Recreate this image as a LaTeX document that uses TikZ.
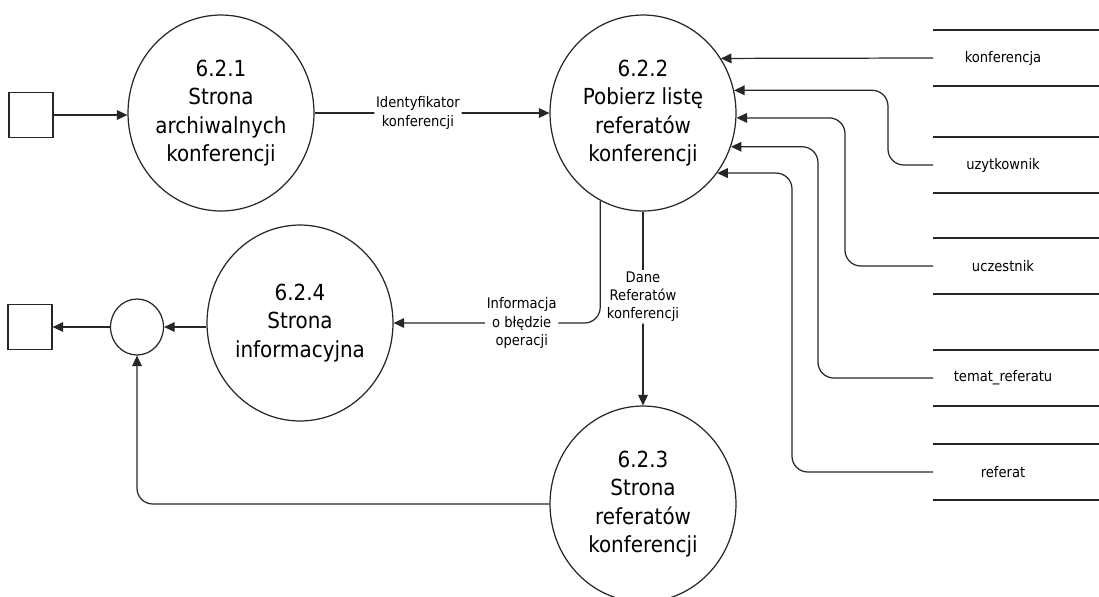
\documentclass[tikz,border=0pt]{standalone}
\usepackage{fontspec}
\setmainfont{DejaVu Sans Condensed}
\usepackage{tikz}
\usetikzlibrary{arrows.meta}
\usetikzlibrary{shapes.geometric}
\tikzset{
    proc/.style={ellipse,draw,minimum width=3.72cm,minimum height=3.92cm,inner sep=0pt,align=center,font=\fontsize{12.6}{16.2}\selectfont},
    junction/.style={ellipse,draw,minimum width=1.06cm,minimum height=1.12cm,inner sep=0pt},
    term/.style={rectangle,draw,minimum width=0.88cm,minimum height=0.9cm},
    lbl/.style={fill=white,inner sep=1pt,align=center,font=\fontsize{8.3}{10.3}\selectfont},
    flow/.style={-{Triangle[length=6pt,width=5.5pt]},rounded corners=9pt}
}
\newcommand{\storenode}[3]{\node[lbl] (#1) at (1003,#2) {#3};
    \draw (933,#2-28) -- (1099,#2-28);
    \draw (933,#2+28) -- (1099,#2+28);
    \coordinate (#1-in) at (933,#2);}

\begin{document}
\begin{tikzpicture}[x=0.02cm,y=-0.02cm,line width=0.7pt,draw=black!85]
    \useasboundingbox (0,0) rectangle (1099,596);
    %nodes
    \node[term] (src) at (31,115) {};
    \node[term] (sink) at (30,327) {};
    \node[junction] (joint) at (137,327) {};
    \node[proc] (p621) at (221,113) {6.2.1\\Strona\\archiwalnych\\konferencji};
    \node[proc] (p622) at (643,113) {6.2.2\\Pobierz listę\\referatów\\konferencji};
    \node[proc] (p623) at (643,504) {6.2.3\\Strona\\referatów\\konferencji};
    \node[proc] (p624) at (300,323) {6.2.4\\Strona\\informacyjna};
    
    % data stores
    \storenode{konf}{58}{konferencja}
    \storenode{uzyt}{165}{uzytkownik}
    \storenode{ucz}{266}{uczestnik}
    \storenode{temat}{378}{temat\_referatu}
    \storenode{ref}{472}{referat}
    
    %edges
    \draw[flow] (src) -- (src -| p621.west);
    \draw[flow] (p621.east) -- node[lbl,pos=0.44] {Identyfikator\\konferencji} (p622.west);
    \draw[flow] (konf-in) -- (p622.35);
    \draw[flow] (uzyt-in) -- ++(-45,0) |- (p622.14);
    \draw[flow] (ucz-in) -- ++(-88,0) |- (p622.357);
    \draw[flow] (temat-in) -- ++(-115,0) |- (p622.339);
    \draw[flow] (ref-in) -- ++(-141,0) |- (p622.321);
    
    \draw[flow] (p622) -- node[lbl,pos=0.44] {Dane\\Referatów\\konferencji} (p623);
    \draw[flow] (p622.244) |- node[lbl,pos=0.69] {Informacja\\o błędzie\\operacji} (p624.east);
    \draw[flow] (p624.west |- joint) -- (joint);
    \draw[flow] (joint) -- (sink);
    \draw[flow] (p623.west) -| (joint.south);
\end{tikzpicture}
\end{document}
